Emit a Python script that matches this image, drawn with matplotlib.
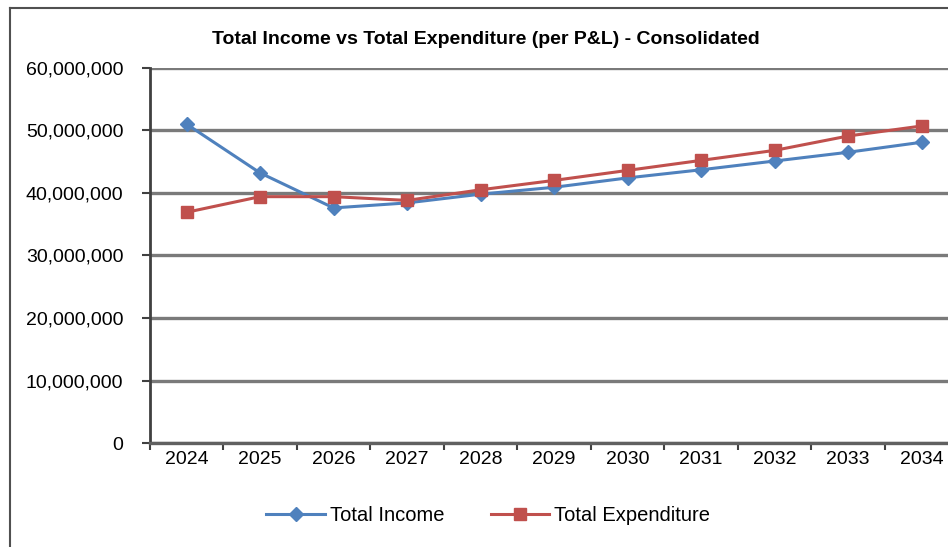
import numpy as np
import matplotlib.pyplot as plt
from matplotlib.lines import Line2D
from matplotlib.ticker import FuncFormatter

years = ["2024", "2025", "2026", "2027", "2028", "2029", "2030", "2031", "2032", "2033", "2034"]
total_income = [51.0e6, 43.2e6, 37.6e6, 38.4e6, 39.8e6, 40.9e6, 42.4e6, 43.7e6, 45.1e6, 46.5e6, 48.1e6]
total_expenditure = [36.9e6, 39.4e6, 39.4e6, 38.8e6, 40.5e6, 42.0e6, 43.6e6, 45.2e6, 46.8e6, 49.1e6, 50.7e6]

plt.rcParams['font.family'] = ['Liberation Sans', 'DejaVu Sans']

fig = plt.figure(figsize=(9.48, 5.47), dpi=100)
ax = fig.add_axes([0.158, 0.190, 0.853, 0.686])

x = np.arange(len(years))
ax.plot(x, total_income, color='#4F81BD', lw=2.2, marker='D', ms=7,
        label='Total Income', zorder=4)
ax.plot(x, total_expenditure, color='#C0504D', lw=2.2, marker='s', ms=9,
        label='Total Expenditure', zorder=5)

ax.set_xlim(-0.5, len(years) - 0.5)
ax.set_ylim(0, 60e6)
ax.set_yticks(np.arange(0, 60e6 + 1, 10e6))
ax.yaxis.set_major_formatter(FuncFormatter(lambda v, p: f"{int(v):,}"))
ax.set_xticks(x)
ax.set_xticklabels(years)
ax.set_xticks(np.arange(-0.5, len(years), 1.0), minor=True)

ax.grid(axis='y', color='#7a7a7a', lw=2.4, zorder=1)
ax.set_axisbelow(True)
for side in ['top', 'right']:
    ax.spines[side].set_visible(False)
ax.spines['left'].set_color('#404040')
ax.spines['left'].set_linewidth(2)
ax.spines['bottom'].set_color('#606060')
ax.spines['bottom'].set_linewidth(2.4)

ax.tick_params(axis='y', direction='out', length=6, width=1.5, color='#404040',
               labelsize=14, pad=13)
ax.tick_params(axis='x', which='major', length=0, labelsize=14, pad=6)
ax.tick_params(axis='x', which='minor', direction='out', length=5, width=1.5,
               color='#404040')

fig.text(0.512, 0.927, 'Total Income vs Total Expenditure (per P&L) - Consolidated',
         ha='center', va='center', fontsize=14, fontweight='bold')

fig.legend(loc='center', bbox_to_anchor=(0.515, 0.058), ncol=2, frameon=False,
           fontsize=14.5, handlelength=2.9, columnspacing=2.3, handletextpad=0.25)

# chart frame (left and top edges)
fig.add_artist(Line2D([9.5 / 948, 9.5 / 948], [0, 1 - 8 / 547], color='#505050', lw=1.5))
fig.add_artist(Line2D([9.5 / 948, 1], [1 - 8 / 547, 1 - 8 / 547], color='#505050', lw=1.5))

fig.savefig('out.png', dpi=100)
